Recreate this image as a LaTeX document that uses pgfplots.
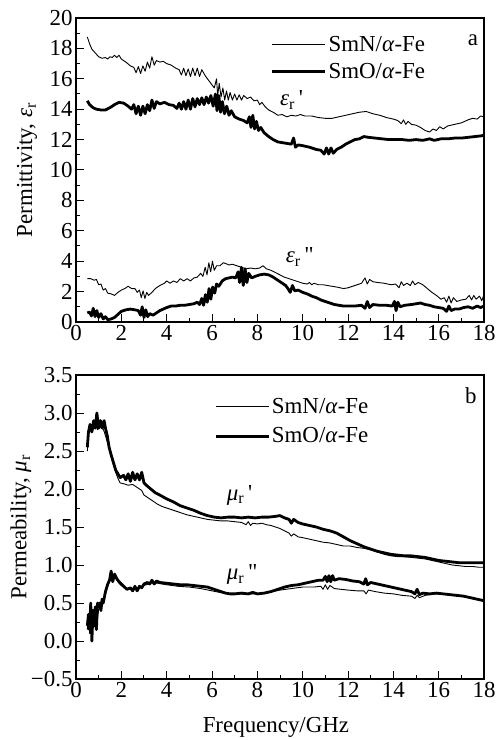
\documentclass[border=0pt]{standalone}
\usepackage{fontspec}
\setmainfont{Liberation Serif}
\usepackage{pgfplots}
\pgfplotsset{compat=1.18}

\newcommand{\fs}{\fontsize{23}{27}\selectfont}
\pgfplotsset{
  panel/.style={
    scale only axis, width=408bp, height=304bp,
    xmin=0, xmax=18, xtick={0,2,...,18}, minor x tick num=1, minor y tick num=1,
    tick align=inside, xtick pos=left, ytick pos=left,
    major tick length=8bp, minor tick length=4bp,
    axis line style={line width=1.2bp},
    every tick/.style={line width=1bp, black},
    tick label style={font=\fs},
    label style={font=\fs},
    /pgf/number format/assume math mode=true,
    legend cell align=left,
    legend style={draw=none, fill=none, font=\fs, anchor=north west, inner sep=0pt},
    legend image code/.code={\draw[##1] (0bp,0bp) -- (53bp,0bp);},
  },
  thinline/.style={black, line width=0.9bp, line join=round},
  thickline/.style={black, line width=2.8bp, line join=round},
}

\begin{document}
\begin{tikzpicture}
% (a) permittivity
\begin{axis}[panel,
  ymin=0, ymax=20, ytick={0,2,...,20},
  ylabel={Permittivity, \textit{ε}\textsubscript{r}},
  ylabel style={at={(axis description cs:-0.12,0.5)}, anchor=center},
  legend style={at={(axis description cs:0.477,0.947)}, row sep=6bp},
]
\addplot[thinline] coordinates {
(0.50,18.75)(0.60,18.3)(0.70,17.95)(0.85,17.7)(1.00,17.45)(1.15,17.35)(1.30,17.4)(1.40,17.3)(1.50,17.45)(1.60,17.4)(1.70,17.55)(1.80,17.4)(1.90,17.55)(2.00,17.3)(2.20,17.1)(2.40,16.85)(2.55,16.75)(2.65,16.4)(2.75,16.8)(2.85,16.35)(2.95,16.85)(3.05,16.5)(3.15,17.1)(3.25,16.7)(3.35,17.45)(3.45,16.9)(3.55,17.2)(3.70,17.1)(3.85,17.15)(4.00,17.0)(4.20,16.9)(4.40,16.7)(4.55,16.6)(4.65,16.25)(4.75,16.7)(4.85,16.2)(4.95,16.65)(5.05,16.15)(5.15,16.7)(5.25,16.2)(5.35,16.7)(5.45,16.15)(5.55,16.6)(5.70,16.2)(5.85,15.9)(6.00,15.6)(6.10,15.4)(6.20,16.0)(6.25,14.9)(6.32,15.7)(6.40,14.8)(6.48,15.4)(6.56,14.6)(6.64,15.2)(6.72,14.6)(6.80,15.1)(6.90,14.6)(7.00,15.0)(7.10,14.6)(7.20,14.95)(7.30,14.6)(7.40,14.9)(7.55,14.7)(7.70,14.8)(7.85,14.55)(8.00,14.6)(8.10,14.3)(8.20,14.45)(8.35,14.15)(8.50,13.95)(8.70,13.8)(8.90,13.6)(9.10,13.65)(9.30,13.5)(9.50,13.6)(9.70,13.55)(9.90,13.65)(10.10,13.55)(10.40,13.55)(10.70,13.45)(11.00,13.4)(11.30,13.4)(11.60,13.5)(11.90,13.6)(12.20,13.7)(12.50,13.8)(12.80,13.85)(13.10,13.7)(13.40,13.6)(13.70,13.45)(14.00,13.35)(14.20,13.25)(14.35,13.05)(14.45,13.3)(14.55,13.0)(14.65,13.2)(14.80,13.0)(15.00,12.95)(15.20,12.8)(15.40,12.6)(15.60,12.5)(15.75,12.7)(15.90,12.6)(16.05,12.85)(16.20,12.7)(16.40,12.9)(16.70,13.0)(17.00,13.1)(17.30,13.3)(17.50,13.4)(17.70,13.35)(17.85,13.55)(18.00,13.5)};
\addlegendentry{SmN/\textit{α}-Fe}
\addplot[thickline] coordinates {
(0.50,14.55)(0.60,14.3)(0.75,14.1)(0.90,14.0)(1.10,13.95)(1.30,13.95)(1.50,14.1)(1.70,14.3)(1.90,14.45)(2.10,14.4)(2.30,14.2)(2.45,14.0)(2.55,14.3)(2.65,13.7)(2.75,14.2)(2.85,13.6)(2.95,14.2)(3.05,13.7)(3.15,14.3)(3.25,13.9)(3.35,14.6)(3.45,14.05)(3.55,14.5)(3.70,14.35)(3.90,14.45)(4.10,14.3)(4.30,14.25)(4.45,14.05)(4.55,14.4)(4.65,14.0)(4.75,14.5)(4.85,14.0)(4.95,14.6)(5.05,14.0)(5.15,14.7)(5.25,14.15)(5.35,14.7)(5.45,14.3)(5.55,14.75)(5.65,14.3)(5.75,14.8)(5.85,14.4)(5.95,14.9)(6.05,14.2)(6.15,15.0)(6.22,13.9)(6.30,14.9)(6.38,13.8)(6.46,14.5)(6.55,13.7)(6.65,14.2)(6.75,13.6)(6.85,13.9)(7.00,13.5)(7.20,13.35)(7.40,13.25)(7.55,13.1)(7.65,13.5)(7.72,12.8)(7.80,13.6)(7.88,12.7)(7.96,13.2)(8.05,12.6)(8.15,12.8)(8.30,12.45)(8.50,12.2)(8.70,12.0)(8.90,11.85)(9.10,11.8)(9.30,11.75)(9.50,11.7)(9.60,12.1)(9.68,11.5)(9.80,11.65)(10.00,11.6)(10.30,11.5)(10.60,11.35)(10.80,11.3)(10.95,11.05)(11.05,11.45)(11.15,11.05)(11.25,11.45)(11.35,11.1)(11.50,11.35)(11.70,11.5)(11.90,11.7)(12.10,11.85)(12.30,12.0)(12.50,12.05)(12.70,12.2)(12.90,12.15)(13.20,12.1)(13.50,12.05)(13.80,12.0)(14.10,12.0)(14.40,12.0)(14.70,11.95)(15.00,12.0)(15.30,11.95)(15.60,12.05)(15.80,11.95)(16.10,12.05)(16.40,12.05)(16.70,12.1)(17.00,12.1)(17.30,12.15)(17.60,12.2)(17.90,12.25)(18.00,12.3)};
\addlegendentry{SmO/\textit{α}-Fe}
\addplot[thinline, forget plot] coordinates {
(0.50,2.85)(0.65,2.85)(0.80,2.75)(0.90,2.8)(1.00,2.45)(1.10,2.5)(1.20,2.1)(1.30,2.2)(1.40,1.9)(1.55,1.85)(1.70,1.75)(1.85,1.95)(2.00,2.1)(2.15,2.2)(2.30,2.35)(2.45,2.2)(2.60,2.2)(2.70,1.95)(2.80,2.1)(2.88,1.6)(2.96,2.05)(3.04,1.55)(3.12,1.95)(3.20,1.75)(3.35,1.95)(3.50,2.2)(3.70,2.4)(3.90,2.55)(4.00,2.7)(4.15,2.55)(4.30,2.7)(4.45,2.6)(4.60,2.85)(4.75,2.7)(4.90,2.85)(5.05,2.7)(5.20,2.9)(5.35,2.95)(5.50,3.2)(5.60,3.0)(5.70,3.6)(5.78,3.1)(5.86,3.9)(5.94,3.3)(6.02,4.0)(6.10,3.4)(6.20,3.7)(6.35,3.7)(6.50,3.9)(6.60,3.85)(6.75,3.75)(6.90,3.8)(7.10,3.7)(7.30,3.6)(7.50,3.5)(7.70,3.55)(7.90,3.5)(8.10,3.55)(8.25,3.7)(8.40,3.5)(8.60,3.4)(8.80,3.25)(9.00,3.1)(9.20,2.95)(9.40,2.85)(9.60,2.75)(9.80,2.65)(10.00,2.55)(10.20,2.5)(10.30,2.6)(10.40,2.45)(10.50,2.55)(10.70,2.45)(10.90,2.45)(11.10,2.4)(11.30,2.35)(11.50,2.3)(11.80,2.2)(12.00,2.25)(12.20,2.35)(12.40,2.45)(12.60,2.55)(12.75,2.9)(12.85,2.5)(12.95,2.8)(13.10,2.65)(13.30,2.6)(13.60,2.55)(13.90,2.45)(14.10,2.5)(14.25,2.25)(14.35,2.65)(14.45,2.4)(14.60,2.55)(14.75,2.4)(14.85,2.7)(14.95,2.45)(15.10,2.6)(15.30,2.45)(15.50,2.2)(15.70,1.95)(15.90,1.75)(16.10,1.5)(16.25,1.6)(16.35,1.3)(16.45,1.7)(16.55,1.25)(16.65,1.6)(16.80,1.35)(17.00,1.45)(17.20,1.5)(17.35,1.75)(17.45,1.45)(17.55,1.75)(17.65,1.5)(17.80,1.7)(17.90,1.4)(18.00,1.8)};
\addplot[thickline, forget plot] coordinates {
(0.50,0.6)(0.60,0.65)(0.68,0.4)(0.76,0.9)(0.84,0.35)(0.92,0.75)(1.00,0.3)(1.10,0.55)(1.20,0.2)(1.30,0.35)(1.40,0.15)(1.55,0.2)(1.70,0.3)(1.85,0.5)(2.00,0.7)(2.20,0.8)(2.40,0.85)(2.60,0.8)(2.75,0.75)(2.85,0.45)(2.92,1.0)(3.00,0.3)(3.08,0.8)(3.16,0.35)(3.25,0.55)(3.40,0.45)(3.55,0.6)(3.70,0.75)(3.85,0.85)(4.00,0.95)(4.20,1.05)(4.40,1.05)(4.60,1.1)(4.80,1.1)(5.00,1.15)(5.20,1.2)(5.35,1.3)(5.45,1.15)(5.55,1.55)(5.63,1.1)(5.71,1.8)(5.79,1.3)(5.87,2.2)(5.95,1.5)(6.03,2.3)(6.12,1.9)(6.20,2.5)(6.30,2.35)(6.45,2.7)(6.60,2.85)(6.75,2.9)(6.90,2.95)(7.05,2.9)(7.15,3.3)(7.22,2.6)(7.30,3.6)(7.38,2.4)(7.46,3.5)(7.54,2.6)(7.62,3.2)(7.75,2.9)(7.90,3.0)(8.10,3.1)(8.30,3.15)(8.50,3.1)(8.70,2.95)(8.90,2.75)(9.10,2.55)(9.25,2.4)(9.35,2.2)(9.45,1.95)(9.55,2.4)(9.65,2.05)(9.80,2.1)(10.00,1.95)(10.20,1.85)(10.40,1.7)(10.60,1.6)(10.80,1.45)(11.00,1.35)(11.20,1.25)(11.40,1.15)(11.60,1.1)(11.80,1.05)(12.00,1.05)(12.30,1.05)(12.60,1.1)(12.75,0.9)(12.85,1.35)(12.95,0.95)(13.10,1.15)(13.40,1.1)(13.70,1.1)(13.95,1.05)(14.05,1.35)(14.12,0.75)(14.20,1.3)(14.30,1.0)(14.50,1.1)(14.80,1.15)(15.00,1.2)(15.20,1.25)(15.40,1.15)(15.60,1.1)(15.80,1.0)(16.00,0.95)(16.20,0.9)(16.35,0.7)(16.45,1.05)(16.55,0.75)(16.70,0.85)(16.90,0.85)(17.10,0.95)(17.30,1.0)(17.50,0.9)(17.70,1.05)(17.85,0.95)(18.00,1.05)};
\node[font=\fs, anchor=west] at (axis cs:8.85,14.6) {\textit{ε}\textsubscript{r}\,\textquotesingle};
\node[font=\fs, anchor=west] at (axis cs:9.1,4.3) {\textit{ε}\textsubscript{r}\,\textquotedbl};
\node[font=\fs] at (axis description cs:0.973,0.928) {a};
\end{axis}

% (b) permeability
\begin{axis}[panel, at={(0bp,-357bp)},
  ymin=-0.5, ymax=3.5, ytick={-0.5,0,...,3.5},
  yticklabels={−0.5,0.0,0.5,1.0,1.5,2.0,2.5,3.0,3.5},
  xlabel={Frequency/GHz},
  xlabel style={at={(axis description cs:0.49,-0.158)}, anchor=center},
  ylabel={Permeability, \textit{μ}\textsubscript{r}},
  ylabel style={at={(axis description cs:-0.135,0.5)}, anchor=center},
  legend style={at={(axis description cs:0.338,0.931)}, row sep=9bp},
]
\addplot[thinline] coordinates {
(0.50,2.5)(0.56,2.75)(0.65,2.85)(0.75,2.78)(0.85,2.85)(0.95,2.78)(1.05,2.85)(1.15,2.82)(1.25,2.75)(1.35,2.65)(1.45,2.55)(1.55,2.42)(1.65,2.32)(1.75,2.22)(1.85,2.14)(1.95,2.08)(2.10,2.07)(2.30,2.05)(2.50,2.06)(2.70,2.02)(2.90,1.98)(3.00,1.92)(3.20,1.88)(3.40,1.84)(3.60,1.8)(3.80,1.77)(4.00,1.75)(4.30,1.72)(4.60,1.69)(4.90,1.66)(5.20,1.64)(5.50,1.62)(5.80,1.6)(6.10,1.59)(6.40,1.58)(6.70,1.58)(7.00,1.57)(7.30,1.56)(7.50,1.53)(7.60,1.57)(7.70,1.52)(7.80,1.55)(8.00,1.54)(8.20,1.55)(8.40,1.53)(8.60,1.52)(8.80,1.5)(9.00,1.48)(9.20,1.45)(9.40,1.42)(9.50,1.38)(9.60,1.41)(9.80,1.37)(10.00,1.36)(10.30,1.34)(10.60,1.32)(10.90,1.3)(11.20,1.29)(11.50,1.27)(11.80,1.25)(12.10,1.25)(12.40,1.23)(12.70,1.22)(13.00,1.2)(13.30,1.17)(13.60,1.14)(13.90,1.12)(14.20,1.11)(14.50,1.11)(14.80,1.1)(15.10,1.09)(15.40,1.08)(15.70,1.06)(16.00,1.04)(16.30,1.02)(16.60,1.0)(16.90,0.99)(17.20,0.98)(17.50,0.98)(17.80,0.97)(18.00,0.97)};
\addlegendentry{SmN/\textit{α}-Fe}
\addplot[thickline] coordinates {
(0.50,2.55)(0.55,2.75)(0.62,2.85)(0.70,2.75)(0.78,2.9)(0.85,2.8)(0.92,3.0)(1.00,2.8)(1.08,2.9)(1.16,2.8)(1.24,2.9)(1.30,2.8)(1.38,2.7)(1.46,2.55)(1.55,2.45)(1.65,2.35)(1.75,2.25)(1.85,2.2)(1.95,2.15)(2.10,2.18)(2.20,2.12)(2.30,2.2)(2.40,2.1)(2.50,2.22)(2.60,2.12)(2.70,2.2)(2.80,2.12)(2.90,2.22)(3.00,2.08)(3.10,2.05)(3.30,2.0)(3.50,1.95)(3.70,1.92)(4.00,1.87)(4.30,1.83)(4.60,1.78)(4.90,1.75)(5.20,1.72)(5.50,1.68)(5.80,1.65)(6.10,1.63)(6.40,1.62)(6.70,1.63)(7.00,1.63)(7.30,1.62)(7.60,1.63)(7.90,1.62)(8.20,1.63)(8.50,1.63)(8.80,1.64)(9.00,1.65)(9.20,1.62)(9.40,1.6)(9.50,1.55)(9.60,1.6)(9.80,1.56)(10.00,1.54)(10.30,1.52)(10.60,1.5)(10.90,1.47)(11.20,1.45)(11.50,1.42)(11.80,1.37)(12.10,1.32)(12.40,1.28)(12.70,1.24)(13.00,1.21)(13.30,1.18)(13.60,1.16)(13.90,1.14)(14.20,1.13)(14.50,1.12)(14.80,1.12)(15.10,1.11)(15.40,1.1)(15.70,1.08)(16.00,1.06)(16.30,1.05)(16.60,1.04)(16.90,1.03)(17.20,1.03)(17.50,1.03)(17.80,1.03)(18.00,1.03)};
\addlegendentry{SmO/\textit{α}-Fe}
\addplot[thinline, forget plot] coordinates {
(0.50,0.15)(0.55,0.3)(0.60,0.1)(0.65,0.45)(0.70,0.05)(0.80,0.35)(0.90,0.2)(1.00,0.42)(1.10,0.42)(1.20,0.5)(1.30,0.62)(1.40,0.72)(1.50,0.8)(1.60,0.8)(1.70,0.85)(1.80,0.8)(1.90,0.76)(2.00,0.73)(2.20,0.69)(2.40,0.68)(2.60,0.69)(2.80,0.7)(3.00,0.73)(3.30,0.76)(3.60,0.76)(4.00,0.74)(4.50,0.72)(5.00,0.71)(5.50,0.69)(6.00,0.66)(6.50,0.63)(7.00,0.62)(7.50,0.62)(8.00,0.62)(8.50,0.64)(9.00,0.67)(9.50,0.69)(10.00,0.71)(10.50,0.71)(10.80,0.72)(10.90,0.68)(11.00,0.74)(11.10,0.68)(11.20,0.73)(11.40,0.69)(11.70,0.68)(12.00,0.67)(12.40,0.66)(12.70,0.66)(12.80,0.62)(12.90,0.67)(13.20,0.65)(13.60,0.63)(14.00,0.62)(14.40,0.6)(14.80,0.59)(14.95,0.56)(15.05,0.6)(15.15,0.57)(15.40,0.6)(15.80,0.62)(16.20,0.62)(16.60,0.61)(17.00,0.59)(17.40,0.57)(17.70,0.55)(18.00,0.53)};
\addplot[thickline, forget plot] coordinates {
(0.50,0.2)(0.55,0.35)(0.60,0.15)(0.65,0.5)(0.70,0.0)(0.75,0.4)(0.80,0.2)(0.85,0.45)(0.90,0.15)(0.95,0.5)(1.00,0.45)(1.05,0.5)(1.10,0.4)(1.15,0.55)(1.20,0.5)(1.30,0.65)(1.40,0.75)(1.48,0.8)(1.55,0.92)(1.62,0.78)(1.70,0.88)(1.80,0.82)(1.90,0.78)(2.00,0.75)(2.10,0.72)(2.25,0.68)(2.40,0.7)(2.50,0.66)(2.60,0.72)(2.70,0.66)(2.80,0.72)(2.90,0.7)(3.00,0.75)(3.15,0.77)(3.25,0.75)(3.35,0.8)(3.45,0.75)(3.55,0.79)(3.70,0.77)(4.00,0.76)(4.30,0.75)(4.60,0.74)(4.90,0.74)(5.20,0.73)(5.50,0.72)(5.80,0.71)(6.00,0.69)(6.20,0.67)(6.40,0.65)(6.60,0.63)(6.80,0.62)(7.00,0.62)(7.30,0.63)(7.60,0.62)(7.80,0.64)(8.00,0.62)(8.30,0.63)(8.60,0.65)(8.90,0.68)(9.20,0.71)(9.50,0.73)(9.80,0.74)(10.10,0.76)(10.40,0.78)(10.70,0.8)(10.90,0.8)(11.00,0.85)(11.08,0.78)(11.16,0.86)(11.24,0.78)(11.32,0.86)(11.40,0.8)(11.60,0.82)(11.90,0.81)(12.20,0.79)(12.50,0.78)(12.70,0.75)(12.78,0.82)(12.86,0.74)(13.00,0.77)(13.30,0.75)(13.60,0.73)(13.90,0.71)(14.20,0.69)(14.50,0.67)(14.80,0.65)(14.95,0.62)(15.05,0.68)(15.15,0.61)(15.30,0.63)(15.60,0.62)(15.90,0.63)(16.20,0.62)(16.50,0.61)(16.80,0.6)(17.10,0.59)(17.40,0.57)(17.70,0.55)(18.00,0.53)};
\node[font=\fs, anchor=west] at (axis cs:6.5,1.92) {\textit{μ}\textsubscript{r}\,\textquotesingle};
\node[font=\fs, anchor=west] at (axis cs:6.5,0.87) {\textit{μ}\textsubscript{r}\,\textquotedbl};
\node[font=\fs] at (axis description cs:0.968,0.931) {b};
\end{axis}
\pgfresetboundingbox
\path[use as bounding box] (-76bp,-418bp) rectangle (420bp,322bp);
\end{tikzpicture}
\end{document}
